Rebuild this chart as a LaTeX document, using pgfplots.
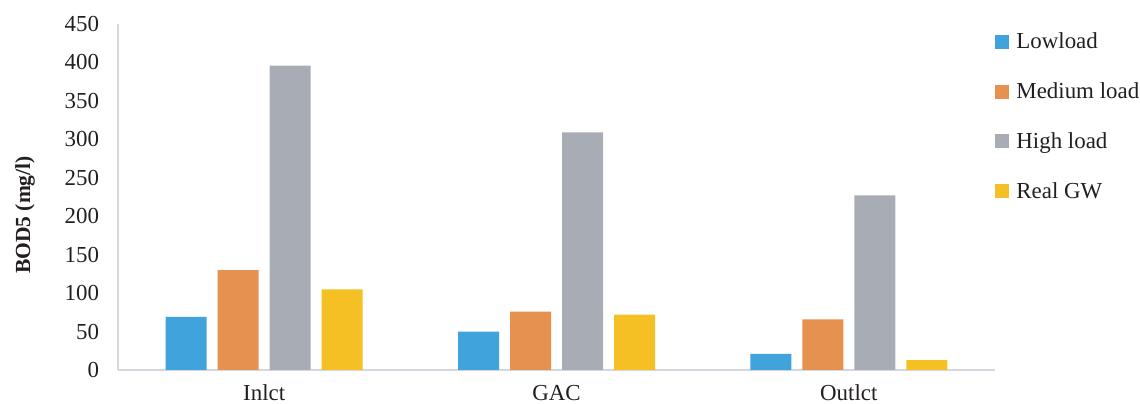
\documentclass[border=0pt]{standalone}
\usepackage{fontspec}
\setmainfont{Liberation Serif}
\usepackage{pgfplots}
\pgfplotsset{compat=1.18}

\definecolor{lowc}{RGB}{65,163,219}
\definecolor{medc}{RGB}{230,145,80}
\definecolor{highc}{RGB}{168,172,180}
\definecolor{realc}{RGB}{245,192,35}
\definecolor{axc}{RGB}{212,215,221}
\definecolor{txt}{RGB}{35,31,32}

\begin{document}
\begin{tikzpicture}
\path[use as bounding box] (-59bp,-17bp) rectangle (511bp,185bp);
\begin{axis}[
  at={(0,0)}, anchor=south west,
  scale only axis,
  width=438.5bp, height=173bp,
  ymin=0, ymax=450,
  ytick={0,50,...,450},
  xmin=-0.5, xmax=2.5,
  xtick={0,1,2},
  xticklabels={Inlct,GAC,Outlct},
  axis x line=bottom, axis y line=left,
  axis line style={draw=axc, line width=1pt, -},
  major tick length=0pt,
  tick style={draw=none},
  /pgf/number format/assume math mode=true,
  ticklabel style={font=\fontsize{11.5}{13}\selectfont, text=txt},
  yticklabel style={xshift=-6bp},
  xticklabel style={yshift=-4bp},
  ylabel={\textbf{BOD5 (mg/l)}},
  ylabel style={at={(axis description cs:-0.106,0.448)}, anchor=center, rotate=0,
    font=\fontsize{10.8}{12}\selectfont, text=txt},
  ybar=5.5bp,
  bar width=20.5bp,
  legend style={at={(rel axis cs:1,0.975)}, anchor=north west, draw=none, fill=none,
    inner sep=0pt, row sep=15.4bp, column sep=3.5bp,
    font=\fontsize{11.5}{13}\selectfont, text=txt,
    nodes={inner sep=0pt, anchor=base west}},
  legend cell align=left,
  legend image code/.code={\fill[#1] (0bp,0bp) rectangle (7bp,7bp);},
]
\addplot[fill=lowc, draw=none] coordinates {(0,69) (1,50) (2,21)};
\addplot[fill=medc, draw=none] coordinates {(0,130) (1,76) (2,66)};
\addplot[fill=highc, draw=none] coordinates {(0,396) (1,309) (2,227)};
\addplot[fill=realc, draw=none] coordinates {(0,105) (1,72) (2,13)};
\legend{Lowload, Medium load, High load, Real GW}
\end{axis}
\end{tikzpicture}
\end{document}
